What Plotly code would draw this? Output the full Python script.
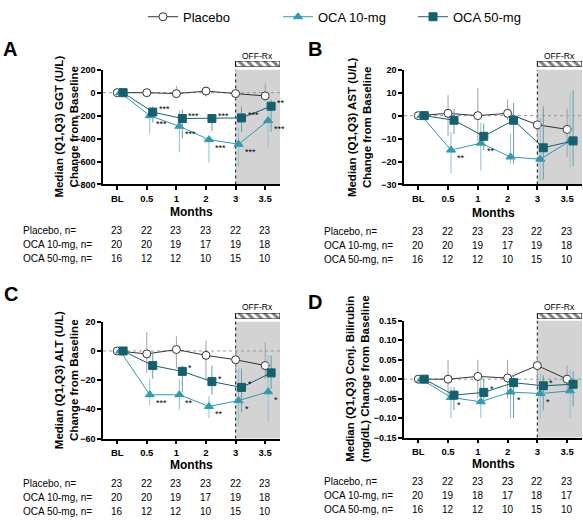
import plotly.graph_objects as go

# ---------------- data ----------------
months = ["BL", "0.5", "1", "2", "3", "3.5"]
visit_index = [0, 1, 2, 3, 4, 5]

n_placebo = [23, 22, 23, 23, 22, 23]
n_oca10 = [20, 20, 19, 17, 19, 18]
n_oca50 = [16, 12, 12, 10, 15, 10]
n_oca10_bili = [20, 19, 18, 17, 18, 17]

# GGT (U/L)
ggt_placebo = [0, 0, -8, 14, -8, -28]
ggt_placebo_q1 = [0, -20, -45, -35, -50, -70]
ggt_placebo_q3 = [0, 15, 60, 50, 40, 80]
ggt_oca10 = [0, -200, -293, -409, -449, -243]
ggt_oca10_q1 = [0, -360, -520, -610, -650, -480]
ggt_oca10_q3 = [0, -160, -150, -380, -300, -130]
ggt_oca50 = [0, -169, -225, -225, -220, -118]
ggt_oca50_q1 = [0, -260, -400, -335, -345, -340]
ggt_oca50_q3 = [0, -120, -147, -200, -120, -60]
ggt_stars10 = ["", "***", "***", "***", "***", "***"]
ggt_stars50 = ["", "***", "***", "***", "***", "**"]

# AST (U/L)
ast_placebo = [0, 1, 0, 1, -4, -6]
ast_placebo_q1 = [0, -9, -11, -2, -10, -18]
ast_placebo_q3 = [0, 9, 12, 7, 2, 3]
ast_oca10 = [0, -15, -12, -18, -19, -11]
ast_oca10_q1 = [0, -25, -24, -21, -28, -23]
ast_oca10_q3 = [0, -7, -3, -8, -1, 10]
ast_oca50 = [0, -2, -9, -2, -14, -11]
ast_oca50_q1 = [0, -8, -15, -21, -28, -22]
ast_oca50_q3 = [0, 3, -3.5, 5.5, 4, 11]
ast_stars10 = ["", "**", "**", "", "", ""]
ast_stars50 = ["", "", "", "", "", ""]

# ALT (U/L)
alt_placebo = [0, -2, 1, -3, -6, -10]
alt_placebo_q1 = [0, -15, -12, -20, -14, -19]
alt_placebo_q3 = [0, 13, 10, 7, 2, 6]
alt_oca10 = [0, -30, -30, -38, -34, -28]
alt_oca10_q1 = [0, -37, -40, -46, -51, -49]
alt_oca10_q3 = [0, -19, -19, -31, -12, -3]
alt_oca50 = [0, -10, -14, -21, -25, -15]
alt_oca50_q1 = [0, -19, -28, -30, -42, -26]
alt_oca50_q3 = [0, -2, -10, -10, -12, -3]
alt_stars10 = ["", "***", "**", "**", "*", "*"]
alt_stars50 = ["", "", "*", "*", "*", ""]

# Conjugated bilirubin (mg/dL)
bili_placebo = [0, 0, 0.007, 0.003, 0.035, 0]
bili_placebo_q1 = [0, -0.045, -0.05, -0.05, -0.02, -0.03]
bili_placebo_q3 = [0, 0.05, 0.05, 0.05, 0.06, 0.035]
bili_oca10 = [0, -0.047, -0.058, -0.033, -0.037, -0.03]
bili_oca10_q1 = [0, -0.1, -0.1, -0.1, -0.1, -0.1]
bili_oca10_q3 = [0, -0.02, 0, 0, 0.015, 0.025]
bili_oca50 = [0, -0.041, -0.034, -0.009, -0.017, -0.013]
bili_oca50_q1 = [0, -0.08, -0.06, -0.1, -0.08, -0.07]
bili_oca50_q3 = [0, -0.02, 0.0, 0.01, 0.01, 0.02]
bili_stars10 = ["", "*", "", "*", "*", ""]
bili_stars50 = ["", "", "*", "", "*", ""]

series_names = ["Placebo", "OCA 10-mg", "OCA 50-mg"]
row_labels = ["Placebo, n=", "OCA 10-mg, n=", "OCA 50-mg, n="]

# ---------------- styling ----------------
W, H = 583, 521
FONT = "Arial, Liberation Sans, sans-serif"
C_PLA = "#333333"
C_10 = "#2f9ab0"
C_50 = "#15606e"
E_PLA = "#a0a0a0"
E_10 = "#86c6d4"
E_50 = "#6f9aa4"
GREY = "#d3d3d3"
XR = [-0.48, 5.5]
OFF_START = 4

def py(px):  # pixel row -> paper y
    return 1 - px / H

def pxx(px):
    return px / W

panels = [
    dict(letter="A", ax="", top=66, bot=183, left=103, right=280,
         yr=[-800, 200], dt=200, fmt="", title="Median (Q1,Q3) GGT (U/L)<br>Change from Baseline", tx=66.5,
         data=[(ggt_placebo, ggt_placebo_q1, ggt_placebo_q3),
               (ggt_oca10, ggt_oca10_q1, ggt_oca10_q3),
               (ggt_oca50, ggt_oca50_q1, ggt_oca50_q3)],
         stars=(ggt_stars10, ggt_stars50), ns=[n_placebo, n_oca10, n_oca50],
         letter_xy=(10, 45), months_y=211, rows=[230, 244, 258], row_x=21,
         strip=(57, 63), off_y=51.5),
    dict(letter="B", ax="2", top=66, bot=183, left=404, right=582,
         yr=[-30, 20], dt=10, fmt="", title="Median (Q1,Q3) AST (U/L)<br>Change from Baseline", tx=359,
         data=[(ast_placebo, ast_placebo_q1, ast_placebo_q3),
               (ast_oca10, ast_oca10_q1, ast_oca10_q3),
               (ast_oca50, ast_oca50_q1, ast_oca50_q3)],
         stars=(ast_stars10, ast_stars50), ns=[n_placebo, n_oca10, n_oca50],
         letter_xy=(315, 45), months_y=212, rows=[231, 245, 259], row_x=322,
         strip=(57, 63), off_y=51.5),
    dict(letter="C", ax="3", top=323, bot=442, left=103, right=280,
         yr=[-60, 20], dt=20, fmt="", title="Median (Q1,Q3) ALT (U/L)<br>Change from Baseline", tx=66,
         data=[(alt_placebo, alt_placebo_q1, alt_placebo_q3),
               (alt_oca10, alt_oca10_q1, alt_oca10_q3),
               (alt_oca50, alt_oca50_q1, alt_oca50_q3)],
         stars=(alt_stars10, alt_stars50), ns=[n_placebo, n_oca10, n_oca50],
         letter_xy=(11, 295), months_y=469, rows=[488, 502, 516], row_x=21,
         strip=(314, 320), off_y=308),
    dict(letter="D", ax="4", top=322, bot=441, left=404, right=582,
         yr=[-0.15, 0.15], dt=0.05, fmt=".2f",
         title="Median (Q1,Q3) Conj. Bilirubin<br>(mg/dL) Change from Baseline", tx=357,
         data=[(bili_placebo, bili_placebo_q1, bili_placebo_q3),
               (bili_oca10, bili_oca10_q1, bili_oca10_q3),
               (bili_oca50, bili_oca50_q1, bili_oca50_q3)],
         stars=(bili_stars10, bili_stars50), ns=[n_placebo, n_oca10_bili, n_oca50],
         letter_xy=(315, 303), months_y=468, rows=[486, 500, 514], row_x=322,
         strip=(314, 320), off_y=308),
]

offsets = [0.0, 0.1, 0.2]
colors = [C_PLA, C_10, C_50]
ecolors = [E_PLA, E_10, E_50]
symbols = ["circle", "triangle-up", "square"]
mcolors = ["white", C_10, C_50]

fig = go.Figure()
layout = dict(
    width=W, height=H, margin=dict(l=0, r=0, t=0, b=0),
    paper_bgcolor="white", plot_bgcolor="rgba(0,0,0,0)",
    font=dict(family=FONT, color="black"),
    showlegend=True,
    legend=dict(orientation="h", x=pxx(143), xanchor="left", y=py(12), yanchor="middle",
                font=dict(size=13, family=FONT), entrywidth=90, entrywidthmode="pixels",
                bgcolor="rgba(0,0,0,0)", itemclick=False),
)
annotations = []
shapes = []

for pi, p in enumerate(panels):
    ax = p["ax"]
    xa = "x" + ax
    ya = "y" + ax
    sax = str(5 + pi)
    xdom = [pxx(p["left"]), pxx(p["right"])]
    layout["xaxis" + ax] = dict(
        domain=xdom, range=XR, anchor=ya, tickmode="array", tickvals=visit_index, ticktext=months,
        showline=True, linecolor="black", linewidth=1.5, ticks="outside", ticklen=4, tickwidth=1.5,
        tickcolor="black", showgrid=False, zeroline=False,
        tickfont=dict(size=9.5, family=FONT, weight="bold"))
    layout["yaxis" + ax] = dict(
        domain=[py(p["bot"]), py(p["top"])], range=p["yr"], dtick=p["dt"], tick0=0, anchor=xa,
        tickformat=p["fmt"], showline=True, linecolor="black", linewidth=1.5, ticks="outside",
        ticklen=4, tickwidth=1.5, tickcolor="black", showgrid=False, zeroline=False,
        tickfont=dict(size=9, family=FONT, weight="bold"))
    # strip axes for the OFF-Rx hatched bar
    layout["xaxis" + sax] = dict(domain=xdom, range=XR, anchor="y" + sax, visible=False)
    layout["yaxis" + sax] = dict(domain=[py(p["strip"][1]), py(p["strip"][0])], range=[0, 1],
                                 anchor="x" + sax, visible=False)

    # grey off-treatment region
    shapes.append(dict(type="rect", xref=xa, yref=ya + " domain", x0=OFF_START, x1=XR[1], y0=0, y1=1,
                       fillcolor=GREY, line=dict(width=0), layer="below"))
    # zero reference line
    shapes.append(dict(type="line", xref=xa + " domain", yref=ya, x0=0, x1=1, y0=0, y1=0,
                       line=dict(color="#999999", width=1, dash="dot"), layer="below"))
    # end of treatment line
    shapes.append(dict(type="line", xref=xa, yref=ya + " domain", x0=OFF_START, x1=OFF_START, y0=0, y1=1,
                       line=dict(color="#333333", width=1.2, dash="dot"), layer="below"))

    # hatched bar
    fig.add_trace(go.Scatter(
        x=[OFF_START, XR[1], XR[1], OFF_START, OFF_START], y=[0, 0, 1, 1, 0],
        xaxis="x" + sax, yaxis="y" + sax, mode="lines", fill="toself",
        fillcolor="white", line=dict(color="black", width=1),
        fillpattern=dict(shape="\\", fgcolor="black", bgcolor="white", size=6, solidity=0.5),
        showlegend=False, hoverinfo="skip"))
    annotations.append(dict(text="OFF-Rx", xref=xa, yref="paper", x=(OFF_START + XR[1]) / 2,
                            y=py(p["off_y"]), showarrow=False, font=dict(size=8.5, family=FONT),
                            xanchor="center", yanchor="middle"))

    # series
    for si in range(3):
        med, q1, q3 = p["data"][si]
        xs = [v + offsets[si] for v in visit_index]
        up = [max(0, b - a) for a, b in zip(med, q3)]
        dn = [max(0, a - b) for a, b in zip(med, q1)]
        fig.add_trace(go.Scatter(
            x=xs, y=med, xaxis=xa, yaxis=ya, mode="lines+markers", name=series_names[si],
            legendgroup=series_names[si], showlegend=(pi == 0),
            line=dict(color=colors[si], width=1),
            marker=dict(symbol=symbols[si], size=8, color=mcolors[si],
                        line=dict(color=colors[si], width=1)),
            error_y=dict(type="data", symmetric=False, array=up, arrayminus=dn,
                         color=ecolors[si], thickness=1, width=0),
            cliponaxis=False))

    # significance markers
    for si, shift in ((1, -8), (2, 3)):
        med = p["data"][si][0]
        for i, s in enumerate(p["stars"][si - 1]):
            if s:
                annotations.append(dict(text=s, xref=xa, yref=ya, x=visit_index[i] + offsets[si], y=med[i],
                                        xanchor="left", yanchor="middle", xshift=4, yshift=shift,
                                        showarrow=False, font=dict(size=9, family=FONT, color="black")))

    # panel letter
    annotations.append(dict(text="<b>" + p["letter"] + "</b>", xref="paper", yref="paper",
                            x=pxx(p["letter_xy"][0]), y=py(p["letter_xy"][1]), xanchor="center",
                            yanchor="middle", showarrow=False, font=dict(size=20, family=FONT)))
    # y title
    annotations.append(dict(text="<b>" + p["title"] + "</b>", xref="paper", yref="paper",
                            x=pxx(p["tx"]), y=py((p["top"] + p["bot"]) / 2), textangle=-90,
                            xanchor="center", yanchor="middle", showarrow=False,
                            font=dict(size=11.5, family=FONT)))
    # x title
    annotations.append(dict(text="<b>Months</b>", xref=xa + " domain", yref="paper", x=0.5,
                            y=py(p["months_y"]), xanchor="center", yanchor="middle", showarrow=False,
                            font=dict(size=12, family=FONT)))
    # n table
    for ri in range(3):
        annotations.append(dict(text=row_labels[ri], xref="paper", yref="paper", x=pxx(p["row_x"]),
                                y=py(p["rows"][ri]), xanchor="left", yanchor="middle", showarrow=False,
                                font=dict(size=10, family=FONT)))
        for i, nval in enumerate(p["ns"][ri]):
            annotations.append(dict(text=str(nval), xref=xa, yref="paper", x=visit_index[i],
                                    y=py(p["rows"][ri]), xanchor="center", yanchor="middle",
                                    showarrow=False, font=dict(size=10, family=FONT)))

layout["annotations"] = annotations
layout["shapes"] = shapes
fig.update_layout(**layout)
fig.write_html("out.html", config={"displayModeBar": False},
               post_script="document.body.style.margin='0';document.body.style.padding='0';")
